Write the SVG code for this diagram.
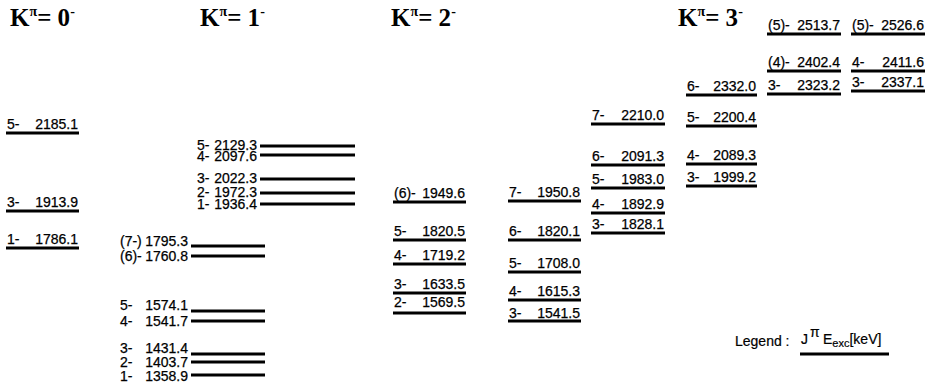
<svg xmlns="http://www.w3.org/2000/svg" width="925" height="386" viewBox="0 0 925 386">
<style>
.h{font-family:"Liberation Serif",serif;font-weight:bold;font-size:25px;fill:#000}
.sup{font-size:14px}
.t{font-family:"Liberation Sans",Arial,sans-serif;font-size:14px;fill:#000;stroke:#000;stroke-width:0.25}
.e{text-anchor:end}
.l{stroke:#000;stroke-width:3;fill:none}
.lg{font-family:"Liberation Sans",Arial,sans-serif;font-size:14px;fill:#000;stroke:#000;stroke-width:0.2}
</style>
<rect width="925" height="386" fill="#fff"/>
<g id="headers">
<text class="h" x="10" y="26">K<tspan class="sup" dy="-10">π</tspan><tspan dy="10">= 0</tspan><tspan class="sup" dy="-10">-</tspan></text>
<text class="h" x="200" y="26">K<tspan class="sup" dy="-10">π</tspan><tspan dy="10">= 1</tspan><tspan class="sup" dy="-10">-</tspan></text>
<text class="h" x="391" y="26">K<tspan class="sup" dy="-10">π</tspan><tspan dy="10">= 2</tspan><tspan class="sup" dy="-10">-</tspan></text>
<text class="h" x="678" y="26">K<tspan class="sup" dy="-10">π</tspan><tspan dy="10">= 3</tspan><tspan class="sup" dy="-10">-</tspan></text>
</g>
<!-- K=0 -->
<g id="k0-5"><text class="t" x="7" y="129">5-</text><text class="t e" x="78" y="129">2185.1</text><line class="l" x1="6" y1="133" x2="79" y2="133"/></g>
<g id="k0-3"><text class="t" x="7" y="207">3-</text><text class="t e" x="78" y="207">1913.9</text><line class="l" x1="6" y1="211" x2="79" y2="211"/></g>
<g id="k0-1"><text class="t" x="7" y="244">1-</text><text class="t e" x="78" y="244">1786.1</text><line class="l" x1="6" y1="248" x2="79" y2="248"/></g>
<!-- K=1 upper -->
<g id="k1-5u"><text class="t" x="197" y="150">5-</text><text class="t e" x="257" y="150">2129.3</text><line class="l" x1="260" y1="146" x2="355" y2="146"/></g>
<g id="k1-4u"><text class="t" x="197" y="161">4-</text><text class="t e" x="257" y="161">2097.6</text><line class="l" x1="260" y1="155" x2="355" y2="155"/></g>
<g id="k1-3u"><text class="t" x="197" y="183">3-</text><text class="t e" x="257" y="183">2022.3</text><line class="l" x1="260" y1="179" x2="355" y2="179"/></g>
<g id="k1-2u"><text class="t" x="197" y="197">2-</text><text class="t e" x="257" y="197">1972.3</text><line class="l" x1="260" y1="193" x2="355" y2="193"/></g>
<g id="k1-1u"><text class="t" x="197" y="209">1-</text><text class="t e" x="257" y="209">1936.4</text><line class="l" x1="260" y1="204" x2="355" y2="204"/></g>
<!-- K=1 lower -->
<g id="k1-7l"><text class="t" x="120" y="246">(7-)</text><text class="t e" x="188" y="246">1795.3</text><line class="l" x1="191" y1="246" x2="265" y2="246"/></g>
<g id="k1-6l"><text class="t" x="120" y="261">(6)-</text><text class="t e" x="188" y="261">1760.8</text><line class="l" x1="191" y1="256" x2="265" y2="256"/></g>
<g id="k1-5l"><text class="t" x="120" y="310">5-</text><text class="t e" x="188" y="310">1574.1</text><line class="l" x1="191" y1="311" x2="265" y2="311"/></g>
<g id="k1-4l"><text class="t" x="120" y="326">4-</text><text class="t e" x="188" y="326">1541.7</text><line class="l" x1="191" y1="321" x2="265" y2="321"/></g>
<g id="k1-3l"><text class="t" x="120" y="353">3-</text><text class="t e" x="188" y="353">1431.4</text><line class="l" x1="191" y1="354" x2="265" y2="354"/></g>
<g id="k1-2l"><text class="t" x="120" y="367">2-</text><text class="t e" x="188" y="367">1403.7</text><line class="l" x1="191" y1="362" x2="265" y2="362"/></g>
<g id="k1-1l"><text class="t" x="120" y="381">1-</text><text class="t e" x="188" y="381">1358.9</text><line class="l" x1="191" y1="375" x2="265" y2="375"/></g>
<!-- K=2 col A -->
<g id="k2a-6"><text class="t" x="394" y="198">(6)-</text><text class="t e" x="465" y="198">1949.6</text><line class="l" x1="393" y1="202" x2="466" y2="202"/></g>
<g id="k2a-5"><text class="t" x="394" y="236">5-</text><text class="t e" x="465" y="236">1820.5</text><line class="l" x1="393" y1="240" x2="466" y2="240"/></g>
<g id="k2a-4"><text class="t" x="394" y="260">4-</text><text class="t e" x="465" y="260">1719.2</text><line class="l" x1="393" y1="264" x2="466" y2="264"/></g>
<g id="k2a-3"><text class="t" x="394" y="289">3-</text><text class="t e" x="465" y="289">1633.5</text><line class="l" x1="393" y1="293" x2="466" y2="293"/></g>
<g id="k2a-2"><text class="t" x="394" y="307">2-</text><text class="t e" x="465" y="307">1569.5</text><line class="l" x1="393" y1="313" x2="466" y2="313"/></g>
<!-- K=2 col B -->
<g id="k2b-7"><text class="t" x="509" y="197">7-</text><text class="t e" x="580" y="197">1950.8</text><line class="l" x1="508" y1="201" x2="581" y2="201"/></g>
<g id="k2b-6"><text class="t" x="509" y="236">6-</text><text class="t e" x="580" y="236">1820.1</text><line class="l" x1="508" y1="240" x2="581" y2="240"/></g>
<g id="k2b-5"><text class="t" x="509" y="268">5-</text><text class="t e" x="580" y="268">1708.0</text><line class="l" x1="508" y1="272" x2="581" y2="272"/></g>
<g id="k2b-4"><text class="t" x="509" y="296">4-</text><text class="t e" x="580" y="296">1615.3</text><line class="l" x1="508" y1="300" x2="581" y2="300"/></g>
<g id="k2b-3"><text class="t" x="509" y="318">3-</text><text class="t e" x="580" y="318">1541.5</text><line class="l" x1="508" y1="321" x2="581" y2="321"/></g>
<!-- K=2 col C -->
<g id="k2c-7"><text class="t" x="592" y="120">7-</text><text class="t e" x="664" y="120">2210.0</text><line class="l" x1="591" y1="124" x2="665" y2="124"/></g>
<g id="k2c-6"><text class="t" x="592" y="161">6-</text><text class="t e" x="664" y="161">2091.3</text><line class="l" x1="591" y1="165" x2="665" y2="165"/></g>
<g id="k2c-5"><text class="t" x="592" y="184">5-</text><text class="t e" x="664" y="184">1983.0</text><line class="l" x1="591" y1="188" x2="665" y2="188"/></g>
<g id="k2c-4"><text class="t" x="592" y="209">4-</text><text class="t e" x="664" y="209">1892.9</text><line class="l" x1="591" y1="213" x2="665" y2="213"/></g>
<g id="k2c-3"><text class="t" x="592" y="229">3-</text><text class="t e" x="664" y="229">1828.1</text><line class="l" x1="591" y1="233" x2="665" y2="233"/></g>
<!-- K=3 col -->
<g id="k3-6"><text class="t" x="687" y="91">6-</text><text class="t e" x="756" y="91">2332.0</text><line class="l" x1="686" y1="95" x2="757" y2="95"/></g>
<g id="k3-5"><text class="t" x="687" y="122">5-</text><text class="t e" x="756" y="122">2200.4</text><line class="l" x1="686" y1="126" x2="757" y2="126"/></g>
<g id="k3-4"><text class="t" x="687" y="160">4-</text><text class="t e" x="756" y="160">2089.3</text><line class="l" x1="686" y1="164" x2="757" y2="164"/></g>
<g id="k3-3"><text class="t" x="687" y="182">3-</text><text class="t e" x="756" y="182">1999.2</text><line class="l" x1="686" y1="186" x2="757" y2="186"/></g>
<!-- K=3 col 2 -->
<g id="k3b-5"><text class="t" x="768" y="30">(5)-</text><text class="t e" x="840" y="30">2513.7</text><line class="l" x1="767" y1="34" x2="841" y2="34"/></g>
<g id="k3b-4"><text class="t" x="768" y="67">(4)-</text><text class="t e" x="840" y="67">2402.4</text><line class="l" x1="767" y1="71" x2="841" y2="71"/></g>
<g id="k3b-3"><text class="t" x="768" y="90">3-</text><text class="t e" x="840" y="90">2323.2</text><line class="l" x1="767" y1="94" x2="841" y2="94"/></g>
<!-- K=3 col 3 -->
<g id="k3c-5"><text class="t" x="852" y="30">(5)-</text><text class="t e" x="924" y="30">2526.6</text><line class="l" x1="851" y1="34" x2="925" y2="34"/></g>
<g id="k3c-4"><text class="t" x="852" y="67">4-</text><text class="t e" x="924" y="67">2411.6</text><line class="l" x1="851" y1="71" x2="925" y2="71"/></g>
<g id="k3c-3"><text class="t" x="852" y="87">3-</text><text class="t e" x="924" y="87">2337.1</text><line class="l" x1="851" y1="91" x2="925" y2="91"/></g>
<!-- Legend -->
<g id="legend">
<text class="lg" x="735" y="346">Legend :</text>
<text class="lg" x="801" y="344">J</text>
<text class="lg" x="810" y="337" font-size="10">π</text>
<text class="lg" x="823" y="344" font-size="15">E<tspan font-size="11" dy="3">exc</tspan><tspan dy="-3">[keV]</tspan></text>
<line class="l" x1="800" y1="354" x2="889" y2="354"/>
</g>
</svg>
